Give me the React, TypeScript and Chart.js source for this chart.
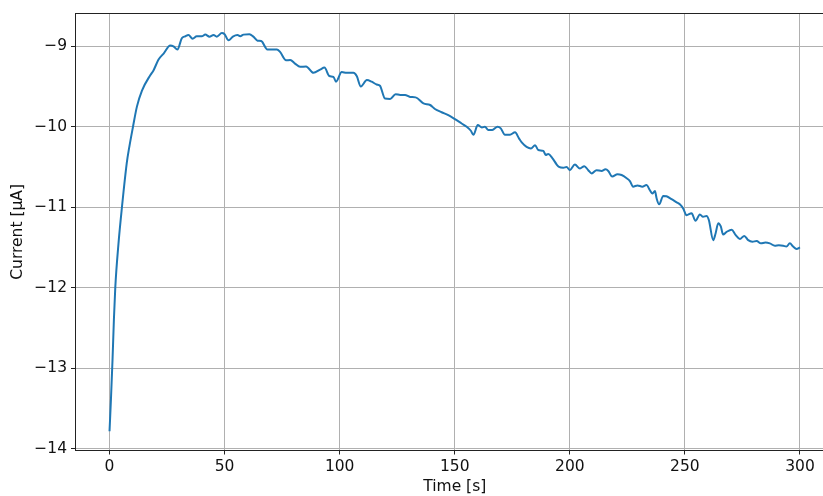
import React, { useEffect, useRef } from "react";
import { Chart, registerables } from "chart.js";

Chart.register(...registerables);

const timeS: number[] = [
  0, 0.6, 1.3, 1.9, 2.5, 3.9, 5.4, 7.5, 8.6, 10.2, 11.9, 14.1, 17.7, 19.1, 21.3, 23.5, 26.4, 27.8, 29.5,
  31.4, 32.9, 34.3, 36.1, 37.9, 40.1, 41.6, 43.4, 45.2, 46.6, 48.8, 50, 51.7, 53.6, 55.6, 56.8, 58.2,
  60.8, 62.5, 64.3, 65.9, 68.6, 70.5, 72.7, 74.1, 76.7, 78.5, 80.6, 82.8, 85.4, 88.6, 91.5, 93.4, 95.5,
  97.3, 98.4, 100.9, 103, 106, 107.4, 109.2, 111.8, 113.9, 116.1, 117.5, 119.7, 121.9, 124.3, 126.3,
  128.4, 130.6, 133, 136.4, 139.3, 141.4, 144.3, 147.2, 150.1, 153, 155.2, 157, 158.1, 160, 161.8,
  163.1, 164.6, 166.3, 168.6, 170, 171.8, 174, 176.2, 177.9, 179.1, 181.2, 183.1, 184.9, 186.3, 188.5,
  189.5, 190.6, 192.4, 194.3, 195.3, 197.2, 198.6, 200, 202.2, 204.4, 206.3, 208, 209.5, 211.6, 213.8,
  215.5, 216.7, 218.4, 220.7, 222.5, 224.7, 226.1, 227.5, 229.4, 231.5, 233.3, 234.8, 235.8, 237, 237.7,
  238.8, 240.6, 242, 244.2, 246.4, 247.8, 249.3, 250.7, 252.9, 254.6, 256.5, 257.9, 259.4, 260.4, 262.3,
  263.3, 264.5, 265.6, 266.6, 268, 270.3, 272, 273.9, 275.8, 277.5, 279.3, 281.2, 283, 285, 286.9, 289.1,
  290.8, 292.7, 294.1, 295.6, 297, 298.5, 300,
];

const currentUA: number[] = [
  -13.785, -13.4, -12.9, -12.4, -12.0, -11.45, -11.0, -10.45, -10.25, -10.0, -9.75, -9.55, -9.36, -9.3,
  -9.165, -9.09, -8.99, -9.0, -9.04,
  -8.9, -8.876, -8.86, -8.905, -8.876, -8.876, -8.855, -8.88, -8.86, -8.88, -8.835, -8.85, -8.926, -8.88,
  -8.86, -8.875, -8.855,
  -8.85, -8.88, -8.93, -8.935, -9.04, -9.04, -9.04, -9.07, -9.175, -9.17, -9.215, -9.256, -9.25, -9.33,
  -9.29, -9.265, -9.37,
  -9.38, -9.44, -9.32, -9.33, -9.33, -9.37, -9.5, -9.42, -9.44, -9.475, -9.49, -9.65, -9.655, -9.595,
  -9.605,
  -9.605, -9.63, -9.635, -9.71, -9.73, -9.78, -9.82, -9.856, -9.906, -9.96, -10.0, -10.05, -10.1, -9.98,
  -10.01,
  -10.0, -10.04, -10.04, -10.0, -10.02, -10.1, -10.1, -10.07, -10.145, -10.195, -10.25, -10.27, -10.23,
  -10.29, -10.3,
  -10.35, -10.34, -10.39, -10.47, -10.5, -10.51, -10.5, -10.54, -10.47, -10.52, -10.49, -10.54, -10.58,
  -10.54, -10.55,
  -10.53, -10.55, -10.62, -10.59, -10.6, -10.64, -10.675, -10.745, -10.73, -10.745, -10.725, -10.79,
  -10.83, -10.8, -10.89,
  -10.965, -10.86, -10.865, -10.9, -10.94, -10.965, -11.02, -11.1, -11.075, -11.17, -11.09, -11.12,
  -11.11, -11.16, -11.41,
  -11.33, -11.2, -11.24, -11.34, -11.31, -11.28, -11.345, -11.395, -11.357, -11.41, -11.43, -11.42,
  -11.45, -11.44, -11.45, -11.48,
  -11.475, -11.48, -11.49, -11.45, -11.49, -11.52, -11.5,
];

const xTicks: number[] = [0, 50, 100, 150, 200, 250, 300];
const yTicks: number[] = [-14, -13, -12, -11, -10, -9];

const xLabel = "Time [s]";
const yLabel = "Current [µA]";

const FONT = "'DejaVu Sans', sans-serif";
const TEXT = "#111";
const FS = 15.5;

const topSpine = {
  id: "topSpine",
  afterDraw(chart: any) {
    const { ctx, chartArea } = chart;
    ctx.save();
    ctx.strokeStyle = "#222";
    ctx.lineWidth = 1;
    ctx.beginPath();
    const y = Math.round(chartArea.top) + 0.5;
    ctx.moveTo(chartArea.left, y);
    ctx.lineTo(chartArea.right, y);
    ctx.stroke();
    ctx.restore();
  },
};

export default function App() {
  const ref = useRef<HTMLCanvasElement | null>(null);

  useEffect(() => {
    if (!ref.current) return;
    const points = timeS.map((t, i) => ({ x: t, y: currentUA[i] }));
    const chart = new Chart(ref.current, {
      type: "line",
      data: {
        datasets: [
          {
            data: points,
            borderColor: "#1f77b4",
            borderWidth: 2,
            pointRadius: 0,
            fill: false,
            cubicInterpolationMode: "monotone",
          },
        ],
      },
      options: {
        animation: false,
        responsive: false,
        devicePixelRatio: 1,
        layout: { padding: { top: 13, right: 15.5, left: 0, bottom: 0 } },
        plugins: { legend: { display: false }, tooltip: { enabled: false } },
        scales: {
          x: {
            type: "linear",
            min: -15,
            max: 315,
            afterBuildTicks: (s: any) => {
              s.ticks = xTicks.map((v) => ({ value: v }));
            },
            afterFit: (s: any) => {
              s.height = 45.5;
            },
            grid: { color: "#b0b0b0", lineWidth: 1, tickColor: "#222", tickLength: 4 },
            border: { color: "#222", width: 1 },
            ticks: {
              padding: 3,
              color: TEXT,
              font: { family: FONT, size: FS },
              maxRotation: 0,
              callback: (v: any) => String(v),
            },
            title: {
              display: true,
              text: xLabel,
              color: TEXT,
              font: { family: FONT, size: FS },
              padding: { top: 0, bottom: 0 },
            },
          },
          y: {
            type: "linear",
            min: -14.025,
            max: -8.59,
            afterBuildTicks: (s: any) => {
              s.ticks = yTicks.map((v) => ({ value: v }));
            },
            afterFit: (s: any) => {
              s.width = 75;
            },
            grid: { color: "#b0b0b0", lineWidth: 1, tickColor: "#222", tickLength: 4 },
            border: { color: "#222", width: 1 },
            ticks: {
              padding: 4,
              color: TEXT,
              font: { family: FONT, size: FS },
              callback: (v: any) => (v < 0 ? "\u2212" + String(Math.abs(v)) : String(v)),
            },
            title: {
              display: true,
              text: yLabel,
              color: TEXT,
              font: { family: FONT, size: FS },
              padding: { top: 9, bottom: 0 },
            },
          },
        },
      },
      plugins: [topSpine],
    } as any);
    return () => chart.destroy();
  }, []);

  return (
    <div
      style={{
        position: "fixed",
        left: 0,
        top: 0,
        width: 823,
        height: 496,
        overflow: "hidden",
        background: "#fff",
      }}
    >
      <canvas ref={ref} width={850} height={496} style={{ display: "block" }} />
    </div>
  );
}
